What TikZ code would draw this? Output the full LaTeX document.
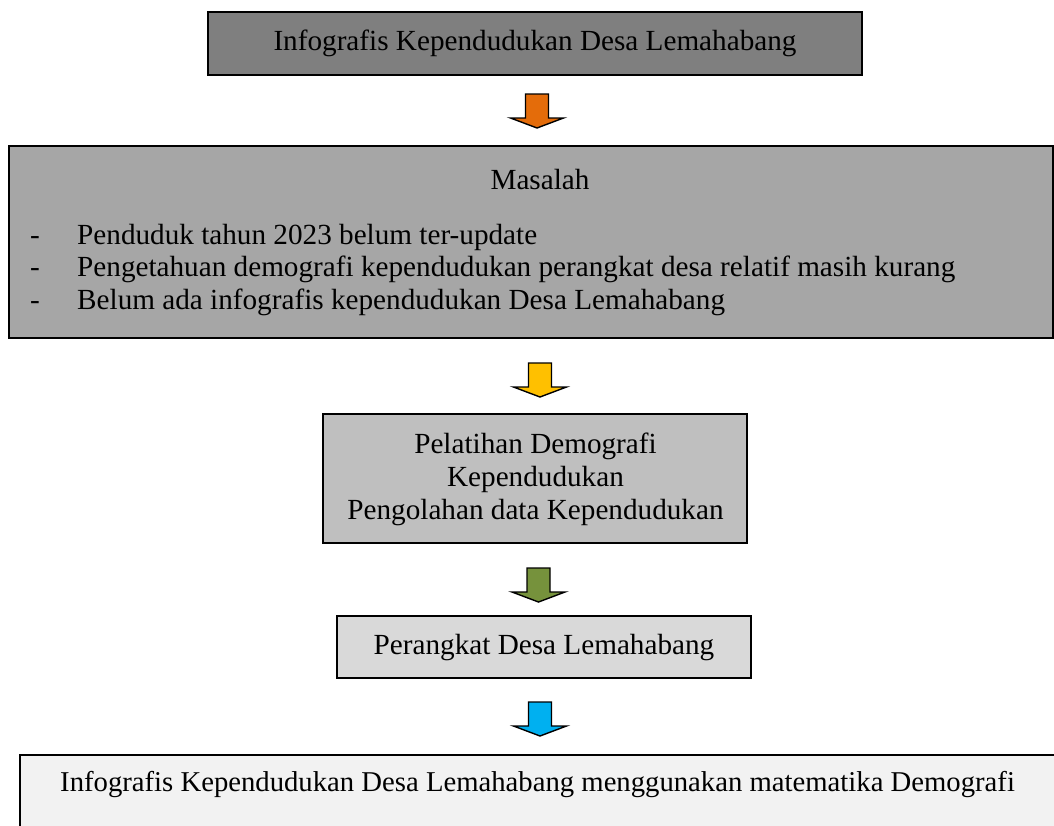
\documentclass[tikz,border=0pt]{standalone}
\usepackage{fontspec}
\setmainfont{Liberation Serif}
\definecolor{boxA}{HTML}{7F7F7F}
\definecolor{boxB}{HTML}{A6A6A6}
\definecolor{boxC}{HTML}{BFBFBF}
\definecolor{boxD}{HTML}{D9D9D9}
\definecolor{boxE}{HTML}{F2F2F2}
\definecolor{arrOrange}{HTML}{E46C0A}
\definecolor{arrYellow}{HTML}{FFC000}
\definecolor{arrGreen}{HTML}{76923C}
\definecolor{arrBlue}{HTML}{00B0F0}
\tikzset{
  panel/.style={draw=black, line width=1.5pt, inner sep=0pt, outer sep=0pt},
  txt/.style={inner sep=0pt, anchor=base, font=\fontsize{29.2}{33}\selectfont},
  ltxt/.style={txt, anchor=base west},
  arrowline/.style={draw=black, line width=1.4pt, line join=miter},
  pics/barrow/.style={code={
    \draw[arrowline, fill=#1] (-11.5,0) -- (11.5,0) -- (11.5,-24) -- (26.5,-24) -- (0,-34) -- (-26.5,-24) -- (-11.5,-24) -- cycle;}}
}
\begin{document}
\begin{tikzpicture}[x=1pt, y=1pt]
\useasboundingbox (0,0) rectangle (1054,-825);
\clip (0,0) rectangle (1054,-825);
% boxes
\node[panel, fill=boxA, minimum width=654pt, minimum height=63pt] (b1) at (535,-43.5) {};
\node[panel, fill=boxB, minimum width=1044pt, minimum height=192pt] (b2) at (531,-242) {};
\node[panel, fill=boxC, minimum width=424pt, minimum height=129pt] (b3) at (535,-478.5) {};
\node[panel, fill=boxD, minimum width=414pt, minimum height=62pt] (b4) at (544,-647) {};
\node[panel, fill=boxE, minimum width=1050pt, minimum height=95pt] (b5) at (545,-802.5) {};
% texts
\node[txt] (t1) at (535,-50.7) {Infografis Kependudukan Desa Lemahabang};
\node[txt] (t2) at (540,-189) {Masalah};
\node[ltxt] (d1) at (30,-244) {-};
\node[ltxt] (l1) at (77,-244) {Penduduk tahun 2023 belum ter-update};
\node[ltxt] (d2) at (30,-276.5) {-};
\node[ltxt] (l2) at (77,-276.5) {Pengetahuan demografi kependudukan perangkat desa relatif masih kurang};
\node[ltxt] (d3) at (30,-309) {-};
\node[ltxt] (l3) at (77,-309) {Belum ada infografis kependudukan Desa Lemahabang};
\node[txt] (t3a) at (535.5,-453) {Pelatihan Demografi};
\node[txt] (t3b) at (535.5,-486) {Kependudukan};
\node[txt] (t3c) at (535.5,-519) {Pengolahan data Kependudukan};
\node[txt] (t4) at (544,-654) {Perangkat Desa Lemahabang};
\node[ltxt, font=\fontsize{28.7}{33}\selectfont] (t5) at (60,-791.7) {Infografis Kependudukan Desa Lemahabang menggunakan matematika Demografi};
% block arrows
\coordinate (a1) at (537,-94);
\coordinate (a2) at (540,-363);
\coordinate (a3) at (538.5,-568);
\coordinate (a4) at (540,-702);
\pic at (a1) {barrow=arrOrange};
\pic at (a2) {barrow=arrYellow};
\pic at (a3) {barrow=arrGreen};
\pic at (a4) {barrow=arrBlue};
\end{tikzpicture}
\end{document}
